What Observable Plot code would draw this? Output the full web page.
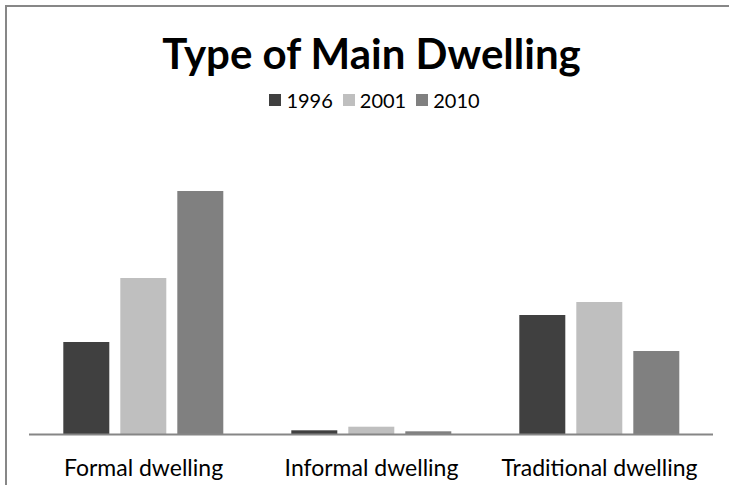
<!DOCTYPE html>
<html>
<head>
<meta charset="utf-8">
<script src="https://cdn.jsdelivr.net/npm/d3@7"></script>
<script src="https://cdn.jsdelivr.net/npm/@observablehq/plot@0.6"></script>
<style>
  html, body { margin: 0; padding: 0; background: #fff; overflow: hidden; }
  #wrap { position: relative; width: 729px; height: 485px; overflow: hidden; font-family: Lato, "Open Sans", sans-serif; color: #000; }
  #borderTop { position: absolute; left: 5px; top: 5px; width: 724px; height: 2px; background: #878787; }
  #borderLeft { position: absolute; left: 5px; top: 5px; width: 2px; height: 480px; background: #878787; }
  #title { position: absolute; left: 0; width: 743px; top: 29px; text-align: center; font-weight: 700; font-size: 42px; line-height: 48px; }
  #legend { position: absolute; left: 0; width: 749px; top: 89px; display: flex; justify-content: center; align-items: center; font-size: 20px; line-height: 22px; }
  #legend .item { display: flex; align-items: center; margin: 0 5px; }
  #legend .sw { width: 12px; height: 12px; margin-right: 5px; }
  #chart { position: absolute; left: 0; top: 120px; }
</style>
</head>
<body>
<div id="wrap">
  <div id="borderTop"></div>
  <div id="borderLeft"></div>
  <div id="title">Type of Main Dwelling</div>
  <div id="legend"></div>
  <div id="chart"></div>
</div>
<script>
// Data (thousands of households)
const categories = ["Formal dwelling", "Informal dwelling", "Traditional dwelling"];
const years = ["1996", "2001", "2010"];
const values1996 = [92, 3.7, 119];
const values2001 = [156, 7.3, 132];
const values2010 = [243, 2.7, 83];
const colors = ["#404040", "#bfbfbf", "#808080"];

const series = [values1996, values2001, values2010];
const data = [];
categories.forEach((c, i) => {
  years.forEach((y, j) => data.push({category: c, year: y, value: series[j][i]}));
});

// Legend
const legend = document.getElementById("legend");
years.forEach((y, j) => {
  const item = document.createElement("div");
  item.className = "item";
  const sw = document.createElement("span");
  sw.className = "sw";
  sw.style.background = colors[j];
  const t = document.createElement("span");
  t.textContent = y;
  item.appendChild(sw);
  item.appendChild(t);
  legend.appendChild(item);
});

const chart = Plot.plot({
  width: 729,
  height: 365,
  marginTop: 14,
  marginBottom: 51,
  marginLeft: 28.7,
  marginRight: 16.2,
  style: {fontFamily: "Lato, 'Open Sans', sans-serif", fontSize: "23px", color: "#000", background: "transparent"},
  fx: {domain: categories, padding: 0, label: null, axis: "bottom", tickSize: 0, tickPadding: 25},
  x: {domain: years, paddingInner: 0.193, paddingOuter: 0.596, axis: null},
  y: {domain: [0, 300], axis: null},
  color: {domain: years, range: colors},
  marks: [
    Plot.barY(data, {fx: "category", x: "year", y: "value", fill: "year"}),
    Plot.ruleY([0], {stroke: "#868686", strokeWidth: 2})
  ]
});
document.getElementById("chart").appendChild(chart);
</script>
</body>
</html>
